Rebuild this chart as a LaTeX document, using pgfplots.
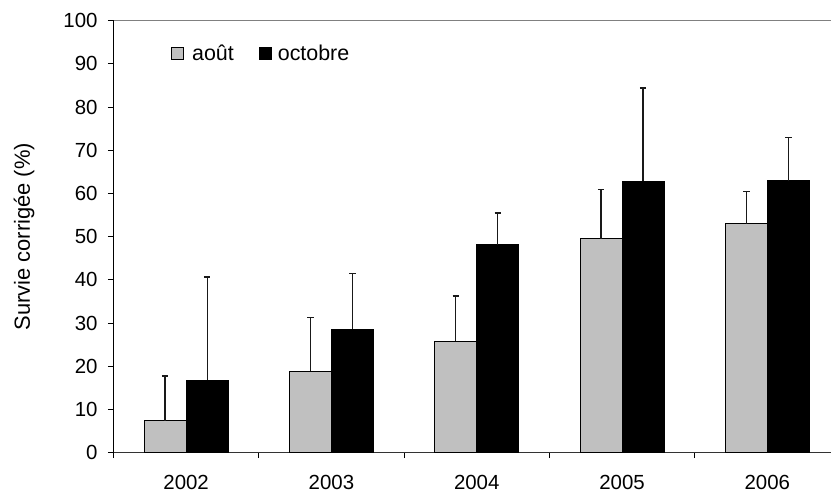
\documentclass[border=0pt]{standalone}
\usepackage{pgfplots}
\pgfplotsset{compat=1.18}
\usepackage{fontspec}
\setmainfont{Liberation Sans}
\definecolor{bargray}{RGB}{192,192,192}
\begin{document}
\begin{tikzpicture}
\begin{axis}[
  at={(113.5bp,40.3bp)}, anchor=south west,
  scale only axis, width=726.5bp, height=432bp,
  xmin=-0.5, xmax=4.5, ymin=0, ymax=100,
  axis lines*=left,
  x axis line style={black!80, line width=1.2bp},
  y axis line style={black, line width=1.2bp},
  ybar=0pt, bar width=42bp,
  xtick={-0.5,0.5,1.5,2.5,3.5,4.5},
  x tick label as interval,
  xticklabels={2002,2003,2004,2005,2006},
  ytick={0,10,...,100},
  tick align=outside, major tick length=5.5bp,
  tick style={black, line width=1bp},
  /pgf/number format/assume math mode=true,
  tick label style={font=\fontsize{20.5}{22}\selectfont},
  xticklabel style={yshift=-14bp},
  yticklabel style={xshift=-7bp},
  ylabel={Survie corrigée (\%)},
  every axis y label/.style={at={(axis description cs:-0.1232,0.5)}, rotate=90, anchor=center, font=\fontsize{22}{24}\selectfont},
  legend style={draw=none, fill=none, at={(0.079,0.925)}, anchor=west,
    legend columns=2, inner sep=0pt,
    /tikz/every even column/.append style={column sep=23bp},
    font=\fontsize{21.5}{24}\selectfont},
  error bars/y dir=plus, error bars/y explicit,
  error bars/error mark=|,
  error bars/error bar style={black!90, line width=1.3bp},
  error bars/error mark options={black!90, line width=1.3bp, mark size=3.2bp},
]
\addplot[fill=bargray, draw=black, line width=1.1bp,
  legend image code/.code={\draw[fill=bargray, draw=black, line width=1bp] (0bp,-6bp) rectangle (11.5bp,6bp); \path (18bp,0bp);}]
  coordinates {(0,7.4) +- (0,10.35) (1,18.8) +- (0,12.5) (2,25.8) +- (0,10.5) (3,49.5) +- (0,11.4) (4,53.0) +- (0,7.5)};
\addlegendentry{août}
\addplot[fill=black, draw=black, line width=1.1bp,
  legend image code/.code={\draw[fill=black, draw=black, line width=1bp] (0bp,-6bp) rectangle (12bp,6bp); \path (16bp,0bp);}]
  coordinates {(0,16.8) +- (0,23.9) (1,28.6) +- (0,12.9) (2,48.1) +- (0,7.4) (3,62.8) +- (0,21.6) (4,63.0) +- (0,9.9)};
\addlegendentry{octobre}
\draw[gray, line width=1.2bp] (rel axis cs:0,1) -- (rel axis cs:1,1);
\end{axis}
\pgfresetboundingbox
\useasboundingbox (0,0) rectangle (831bp,493bp);
\end{tikzpicture}
\end{document}
